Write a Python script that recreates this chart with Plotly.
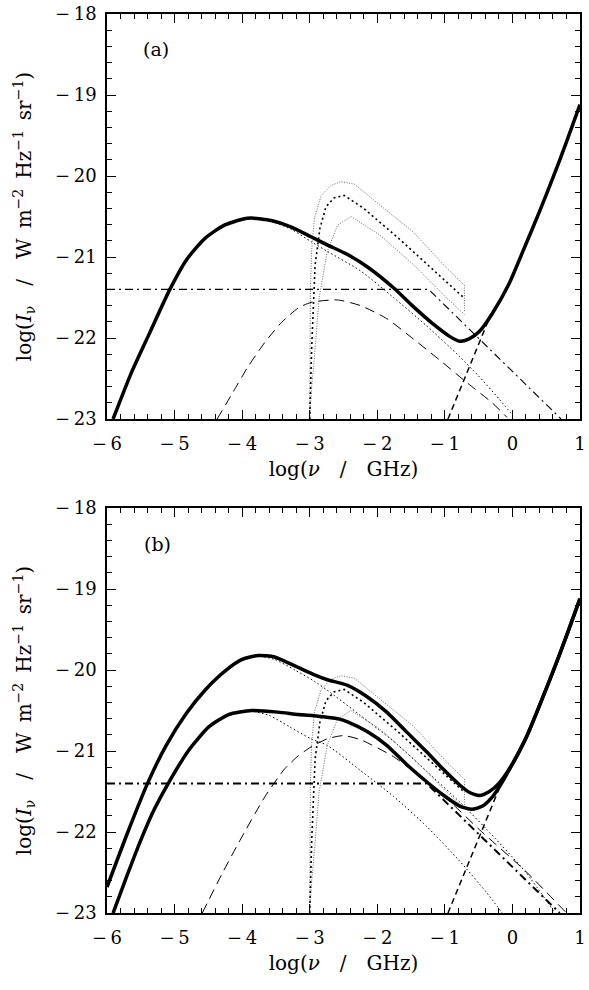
import plotly.graph_objects as go

# ---------------- Panel (a) ----------------
a_tot_x = [-5.91, -5.64, -5.37, -5.07, -4.82, -4.55, -4.27, -4.00, -3.86, -3.57, -3.27, -2.98, -2.74, -2.44,
           -2.15, -1.76, -1.47, -1.17, -0.93, -0.78, -0.64, -0.49, -0.30, -0.05, 0.20, 0.40, 0.60, 0.80, 1.0]
a_tot_y = [-23.0, -22.43, -21.94, -21.40, -21.03, -20.77, -20.61, -20.535, -20.52, -20.55, -20.63, -20.75, -20.85, -20.97,
           -21.12, -21.38, -21.61, -21.83, -21.98, -22.04, -22.01, -21.92, -21.70, -21.33, -20.84, -20.44, -20.02, -19.58, -19.12]

a_sync_x = [-5.91, -5.64, -5.37, -5.07, -4.82, -4.55, -4.27, -4.00, -3.86, -3.57, -3.27, -2.98, -2.74, -2.25,
            -1.76, -1.27, -0.78, -0.50, -0.20, 0.0]
a_sync_y = [-23.0, -22.43, -21.94, -21.40, -21.03, -20.77, -20.61, -20.535, -20.52, -20.56, -20.66, -20.81, -20.93, -21.17,
            -21.50, -21.85, -22.23, -22.47, -22.75, -22.95]

a_ff_x = [-4.37, -4.15, -3.91, -3.66, -3.42, -3.17, -2.98, -2.59, -2.25, -1.86, -1.47, -1.08, -0.69, -0.30, -0.08]
a_ff_y = [-23.0, -22.69, -22.35, -22.05, -21.81, -21.63, -21.56, -21.53, -21.60, -21.76, -22.01, -22.27, -22.54, -22.80, -22.98]

a_dd_x = [-6.0, -1.24, 0.72]
a_dd_y = [-21.4, -21.4, -23.0]

a_sd_x = [-0.954, -0.33]
a_sd_y = [-23.0, -21.73]

# ---------------- Panel (b) ----------------
b_tot1_x = [-6.0, -5.71, -5.40, -5.13, -4.83, -4.54, -4.25, -4.00, -3.76, -3.52, -3.22, -2.93, -2.74, -2.44,
            -2.15, -1.86, -1.56, -1.27, -1.03, -0.78, -0.64, -0.49, -0.34, -0.20, 0.0, 0.20, 0.40, 0.60, 0.80, 1.0]
b_tot1_y = [-22.68, -22.04, -21.40, -20.94, -20.54, -20.24, -20.01, -19.87, -19.82, -19.84, -19.95, -20.06, -20.12, -20.19,
            -20.33, -20.52, -20.77, -21.01, -21.22, -21.42, -21.51, -21.55, -21.50, -21.40, -21.16, -20.84, -20.44, -20.02,
            -19.58, -19.12]

b_tot2_x = [-5.91, -5.70, -5.50, -5.30, -5.08, -4.79, -4.49, -4.20, -3.86, -3.47, -3.17, -2.88, -2.59, -2.44, -2.15,
            -1.86, -1.56, -1.27, -1.03, -0.78, -0.60, -0.44, -0.30, -0.20, -0.10, 0.0, 0.20, 0.40, 0.60, 0.80, 1.0]
b_tot2_y = [-23.0, -22.53, -22.10, -21.72, -21.38, -20.99, -20.70, -20.55, -20.50, -20.52, -20.55, -20.57, -20.60, -20.64,
            -20.76, -20.93, -21.17, -21.38, -21.54, -21.68, -21.72, -21.68, -21.57, -21.45, -21.31, -21.16, -20.84,
            -20.44, -20.02, -19.58, -19.12]

b_sync1_x = [-6.0, -5.71, -5.40, -5.13, -4.83, -4.54, -4.25, -4.00, -3.76, -3.52, -3.22, -2.93, -2.74, -2.25,
             -1.76, -1.27, -0.78, -0.39, 0.2, 0.63]
b_sync1_y = [-22.68, -22.04, -21.40, -20.94, -20.54, -20.24, -20.01, -19.87, -19.83, -19.87, -20.00, -20.14, -20.25, -20.56,
             -20.88, -21.25, -21.63, -21.96, -22.5, -23.0]

b_sync2_x = [-5.91, -5.70, -5.50, -5.30, -5.08, -4.79, -4.49, -4.20, -3.86, -3.60, -3.30, -2.98, -2.74, -2.25, -1.76,
             -1.27, -0.78, -0.39, -0.15]
b_sync2_y = [-23.0, -22.53, -22.10, -21.72, -21.38, -20.99, -20.70, -20.55, -20.51, -20.56, -20.70, -20.85, -20.93, -21.24,
             -21.56, -21.93, -22.36, -22.74, -23.0]

b_ff_x = [-4.59, -4.30, -4.05, -3.66, -3.37, -3.17, -2.98, -2.74, -2.50, -2.25, -1.76, -1.27, -0.88, -0.49, 0.19, 0.80]
b_ff_y = [-23.0, -22.52, -22.13, -21.56, -21.22, -21.06, -20.95, -20.85, -20.81, -20.86, -21.07, -21.38, -21.66, -21.97,
          -22.48, -23.0]

b_dd_x = [-6.0, -1.27, 0.70]
b_dd_y = [-21.4, -21.4, -23.0]

b_sd_x = [-0.954, -0.17]
b_sd_y = [-23.0, -21.41]

# ---------------- spinning-dust-like curves (both panels) ----------------
sdt_x = [-3.0, -2.995, -2.99, -2.97, -2.93, -2.83, -2.69, -2.54, -2.34, -1.96, -1.47, -0.98, -0.71, -0.71]
sdt_y = [-23.0, -22.0, -21.4, -20.9, -20.52, -20.24, -20.12, -20.07, -20.10, -20.36, -20.69, -21.13, -21.35, -21.68]

sdm_x = [-3.0, -2.97, -2.92, -2.85, -2.76, -2.64, -2.49, -2.20, -1.71, -0.98, -0.71]
sdm_y = [-23.0, -22.1, -21.1, -20.65, -20.38, -20.27, -20.24, -20.40, -20.75, -21.30, -21.51]

sdb_x = [-3.0, -2.97, -2.93, -2.86, -2.74, -2.59, -2.39, -1.96, -1.47, -0.98, -0.71]
sdb_y = [-23.0, -22.6, -22.23, -21.50, -20.93, -20.61, -20.50, -20.73, -21.09, -21.50, -21.71]

x_ticks = [-6, -5, -4, -3, -2, -1, 0, 1]
y_ticks = [-23, -22, -21, -20, -19, -18]
panel_labels = ["(a)", "(b)"]

FONT = "DejaVu Serif"
fig = go.Figure()


def add(x, y, xa, ya, width, dash="solid", color="black", shape="linear"):
    line = dict(color=color, width=width, dash=dash, shape=shape)
    if shape == "spline":
        line["smoothing"] = 0.6
    fig.add_trace(go.Scatter(x=x, y=y, xaxis=xa, yaxis=ya, mode="lines", line=line,
                             showlegend=False, hoverinfo="skip"))


# panel (a)
add(a_dd_x, a_dd_y, "x", "y", 1.1, "8px,4px,2px,4px")
add(a_ff_x, a_ff_y, "x", "y", 1.0, "10px,6px", shape="spline")
add(a_sd_x, a_sd_y, "x", "y", 1.5, "6px,4px")
add(a_sync_x, a_sync_y, "x", "y", 1.0, "1.5px,2.5px", shape="spline")
add(sdt_x, sdt_y, "x", "y", 0.8, "1px,1.5px", "#444")
add(sdm_x, sdm_y, "x", "y", 1.6, "2px,3px")
add(sdb_x, sdb_y, "x", "y", 0.8, "1px,1.5px", "#444")
add(a_tot_x, a_tot_y, "x", "y", 3.5, shape="spline")

# panel (b)
add(b_dd_x, b_dd_y, "x2", "y2", 2.0, "8px,4px,2px,4px")
add(b_ff_x, b_ff_y, "x2", "y2", 1.0, "10px,6px", shape="spline")
add(b_sd_x, b_sd_y, "x2", "y2", 1.5, "6px,4px")
add(b_sync1_x, b_sync1_y, "x2", "y2", 1.0, "1.5px,2.5px", shape="spline")
add(b_sync2_x, b_sync2_y, "x2", "y2", 1.0, "1.5px,2.5px", shape="spline")
add(sdt_x, sdt_y, "x2", "y2", 0.8, "1px,1.5px", "#444")
add(sdm_x, sdm_y, "x2", "y2", 1.6, "2px,3px")
add(sdb_x, sdb_y, "x2", "y2", 0.8, "1px,1.5px", "#444")
add(b_tot1_x, b_tot1_y, "x2", "y2", 3.5, shape="spline")
add(b_tot2_x, b_tot2_y, "x2", "y2", 3.5, shape="spline")

tickfont = dict(family=FONT, size=18, color="black")
titlefont = dict(family=FONT, size=20, color="black")
EM = "\u2003"
EN = "\u2002"


def fmt(v):
    return ("\u2212\u2009" if v < 0 else "") + str(abs(v))


def xaxis(anchor):
    return dict(range=[-6, 1], anchor=anchor, showline=True, mirror="allticks", linecolor="black",
                linewidth=1.5, ticks="inside", ticklen=9, tickwidth=1.2, tickcolor="black",
                tickvals=x_ticks, ticktext=[fmt(v) for v in x_ticks], ticklabeloverflow="allow",
                minor=dict(dtick=0.2, tick0=0, ticks="inside", ticklen=5, tickwidth=1, tickcolor="black"),
                showgrid=False, zeroline=False, tickfont=tickfont, ticklabelstandoff=8,
                title=dict(text="log(<i>\u03bd</i>" + EM + "/" + EM + "GHz)", font=titlefont, standoff=9))


def yaxis(anchor, domain):
    return dict(range=[-23, -18], anchor=anchor, domain=domain, showline=True, mirror="allticks",
                linecolor="black", linewidth=1.5, ticks="inside", ticklen=9, tickwidth=1.2,
                tickcolor="black", tickvals=y_ticks, ticklabeloverflow="allow",
                ticktext=[fmt(v) for v in y_ticks],
                minor=dict(dtick=0.2, tick0=0, ticks="inside", ticklen=5, tickwidth=1, tickcolor="black"),
                showgrid=False, zeroline=False, tickfont=tickfont, ticklabelstandoff=5,
                title=dict(text="log(<i>I</i><sub>\u03bd</sub>" + EM + "/" + EM + "W" + EN + "m<sup>\u22122</sup>"
                                + EN + "Hz<sup>\u22121</sup>" + EN + "sr<sup>\u22121</sup>)",
                           font=titlefont, standoff=18))


fig.update_layout(
    width=589, height=990,
    margin=dict(l=107, r=4, t=3, b=77),
    paper_bgcolor="white", plot_bgcolor="white",
    xaxis=xaxis("y"), yaxis=yaxis("x", [0.5495, 1.0]),
    xaxis2=xaxis("y2"), yaxis2=yaxis("x2", [0.0, 0.4505]),
    annotations=[
        dict(text=panel_labels[0], x=-5.27, y=-18.43, xref="x", yref="y", showarrow=False,
             font=dict(family=FONT, size=19, color="black")),
        dict(text=panel_labels[1], x=-5.26, y=-18.45, xref="x2", yref="y2", showarrow=False,
             font=dict(family=FONT, size=19, color="black")),
    ],
)

fig.write_html("out.html")
